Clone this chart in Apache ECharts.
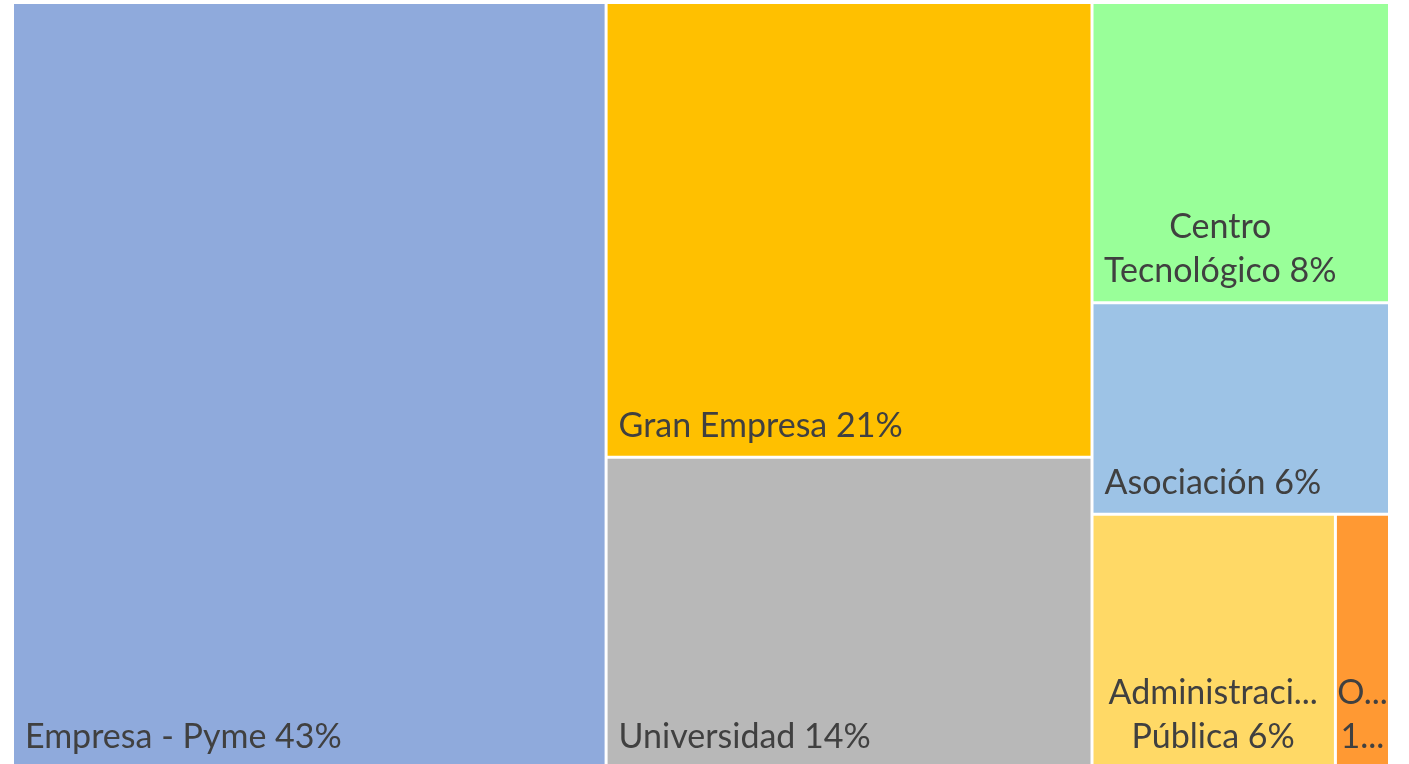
<!DOCTYPE html>
<html>
<head>
<meta charset="utf-8">
<script src="https://cdn.jsdelivr.net/npm/echarts@6/dist/echarts.min.js"></script>
<style>
html,body{margin:0;padding:0;background:#fff;}
#chart{width:1409px;height:764px;}
</style>
</head>
<body>
<div id="chart"></div>
<script>
// Data (share of participants, %)
const categories = ['Empresa - Pyme', 'Gran Empresa', 'Universidad', 'Centro Tecnológico', 'Asociación', 'Administración Pública', 'Otros'];
const values = [43, 20.9, 14.3, 8.45, 5.95, 5.85, 1.3];
const shownLabels = ['Empresa - Pyme 43%', 'Gran Empresa 21%', 'Universidad 14%', 'Centro\nTecnológico 8%', 'Asociación 6%', 'Administraci...\nPública 6%', 'O...\n1...'];
const colors = ['#8FAADC', '#FFC000', '#B8B8B8', '#99FF99', '#9DC3E6', '#FFD966', '#FF9933'];

const centered = {
  'Centro Tecnológico': { position: 'insideBottom', offset: [-22, 0] },
  'Administración Pública': { position: 'insideBottom', offset: [-2, 0] },
  'Otros': { position: 'insideBottom', offset: [0, 0], padding: 0 }
};

const data = categories.map((name, i) => {
  const item = {
    name: name,
    value: values[i],
    itemStyle: { color: colors[i] },
    label: { formatter: shownLabels[i] }
  };
  if (centered[name]) Object.assign(item.label, centered[name]);
  return item;
});

const chart = echarts.init(document.getElementById('chart'));
chart.setOption({
  animation: false,
  series: [{
    type: 'treemap',
    left: 14,
    top: 4,
    width: 1374,
    height: 763,
    roam: false,
    nodeClick: false,
    breadcrumb: { show: false },
    squareRatio: 1,
    itemStyle: { gapWidth: 3, borderWidth: 0, borderColor: '#fff' },
    label: {
      show: true,
      position: 'insideBottomLeft',
      distance: 8,
      padding: [0, 0, 0, 3],
      fontFamily: 'Lato',
      fontSize: 34,
      lineHeight: 44,
      color: '#404040',
      overflow: 'none'
    },
    emphasis: { disabled: true },
    data: data
  }]
});
</script>
</body>
</html>
